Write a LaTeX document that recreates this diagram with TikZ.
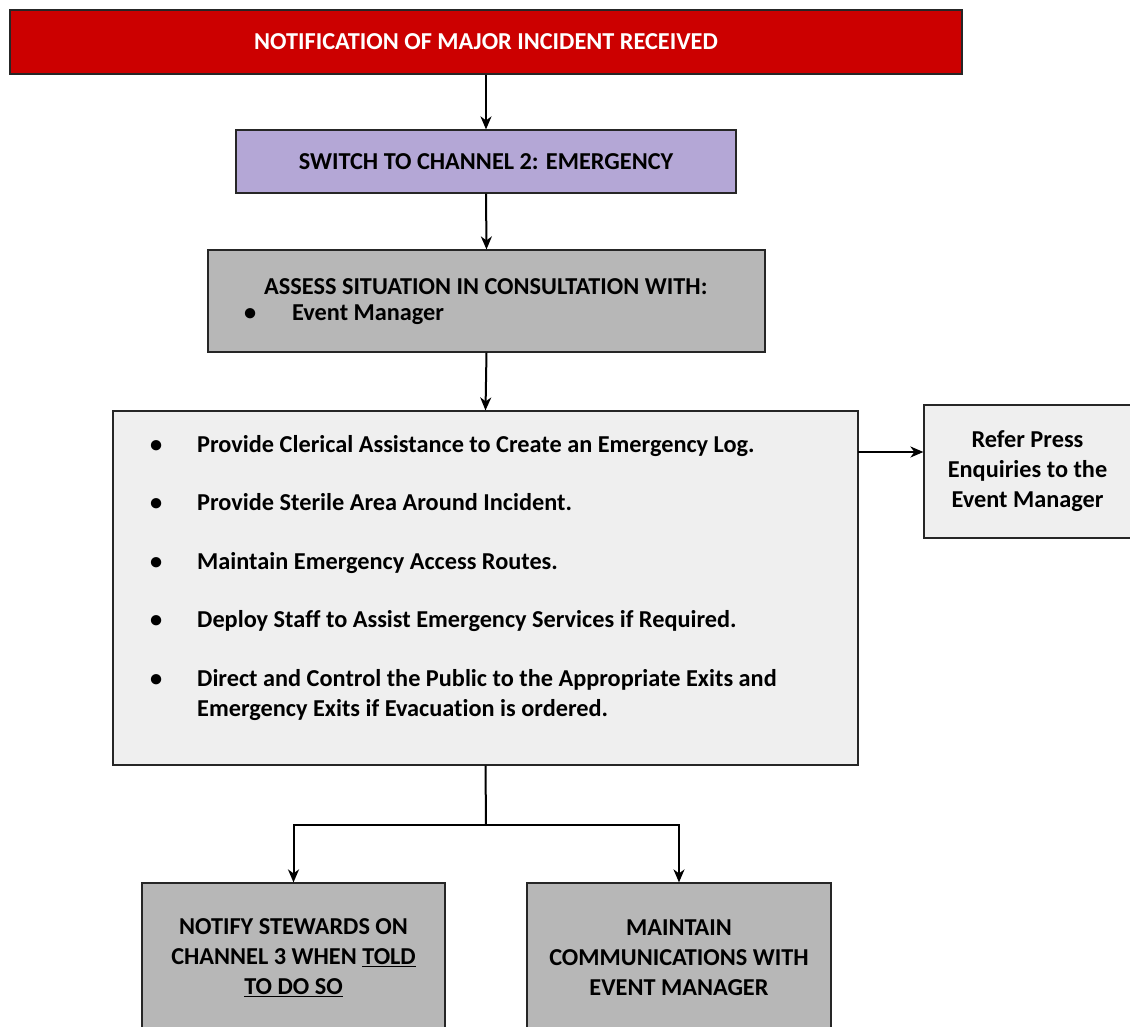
\documentclass[tikz,border=0pt]{standalone}
\usepackage{fontspec}
\setmainfont{Carlito}[Ligatures=NoCommon]
\usetikzlibrary{arrows.meta}
\definecolor{alertred}{HTML}{CC0000}
\definecolor{channel}{HTML}{B4A7D6}
\definecolor{stepgray}{HTML}{B7B7B7}
\definecolor{panel}{HTML}{EFEFEF}
\newcommand{\boxfont}{\bfseries\fontsize{24.3}{30}\selectfont}
\begin{document}
\begin{tikzpicture}[x=1pt,y=-1pt,
  box/.style={draw=black!85, line width=1.2pt, inner sep=0pt, align=center, font=\boxfont},
  plain/.style={inner sep=0pt, align=left, font=\boxfont},
  link/.style={line width=2pt, -{Stealth[length=13pt,width=11pt,inset=4pt]}},
  wire/.style={line width=2pt}]
\clip (0,0) rectangle (1130,1026);
\fill[white] (0,0) rectangle (1130,1026);

% top banner
\node[box, fill=alertred, text=white, minimum width=952pt, minimum height=64pt]
  (notify) at (486,42) {NOTIFICATION OF MAJOR INCIDENT RECEIVED};

% radio channel
\node[box, fill=channel, minimum width=500pt, minimum height=63pt]
  (switch) at (486,161.5) {SWITCH TO CHANNEL 2: EMERGENCY};

% assessment
\node[box, fill=stepgray, minimum width=557pt, minimum height=102pt]
  (assess) at (486.5,301) {};
\node[plain, anchor=west] (assesstxt) at (264,287) {ASSESS SITUATION IN CONSULTATION WITH:};
\node[plain, anchor=west] (assessbul) at (244,315) {\makebox[48pt][l]{\textbullet}Event Manager};

% main actions
\node[box, fill=panel, minimum width=745pt, minimum height=354pt]
  (actions) at (485.5,588) {};
\node[plain, anchor=north west] (actionlist) at (150,431) {%
  \begin{tabular}{@{}p{47pt}@{}l@{}}
  \textbullet & Provide Clerical Assistance to Create an Emergency Log.\\[28.5pt]
  \textbullet & Provide Sterile Area Around Incident.\\[28.5pt]
  \textbullet & Maintain Emergency Access Routes.\\[28.5pt]
  \textbullet & Deploy Staff to Assist Emergency Services if Required.\\[28.5pt]
  \textbullet & Direct and Control the Public to the Appropriate Exits and\\
              & Emergency Exits if Evacuation is ordered.
  \end{tabular}};

% press enquiries
\node[box, fill=panel, minimum width=207pt, minimum height=133pt]
  (press) at (1027.5,471.5) {Refer Press\\Enquiries to the\\Event Manager};

% bottom tasks
\node[box, fill=stepgray, minimum width=303pt, minimum height=150pt]
  (stewards) at (293.5,958) {NOTIFY STEWARDS ON\\CHANNEL 3 WHEN \underline{TOLD}\\\underline{TO DO SO}};
\node[box, fill=stepgray, minimum width=304pt, minimum height=150pt]
  (comms) at (679,958) {MAINTAIN\\COMMUNICATIONS WITH\\EVENT MANAGER};

% connectors
\draw[link] (notify.south) -- (switch.north);
\draw[link] (switch.south) -- (assess.north);
\draw[link] (assess.south) -- (actions.north);
\coordinate (pressout) at (858,452);
\draw[link] (pressout) -- (pressout -| press.west);
\coordinate (split) at (486,825);
\draw[wire] (actions.south) -- (split);
\draw[link] (split) -| (stewards.north);
\draw[link] (split) -| (comms.north);
\end{tikzpicture}
\end{document}
